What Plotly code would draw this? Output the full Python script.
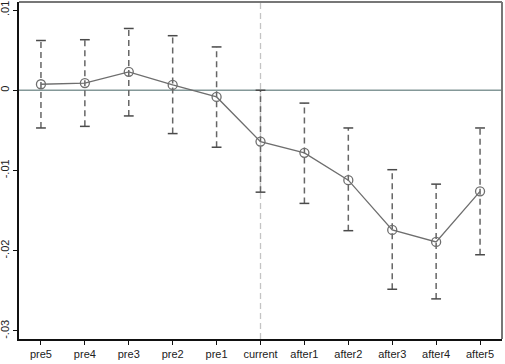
import plotly.graph_objects as go

periods = ["pre5", "pre4", "pre3", "pre2", "pre1", "current",
           "after1", "after2", "after3", "after4", "after5"]
coef = [0.00075, 0.0009, 0.0023, 0.00066, -0.00083, -0.0064,
        -0.0078, -0.0112, -0.0174, -0.0189, -0.0126]
ci_hi = [0.0062, 0.0063, 0.0077, 0.0068, 0.0054, 0.0000,
         -0.0016, -0.0047, -0.0099, -0.0117, -0.0047]
ci_lo = [-0.0047, -0.0045, -0.0032, -0.0054, -0.0071, -0.0127,
         -0.0141, -0.0175, -0.0248, -0.0260, -0.0205]
ytick_vals = [0.01, 0, -0.01, -0.02, -0.03]
ytick_text = [".01", "0", "-.01", "-.02", "-.03"]

xs = list(range(len(periods)))
fig = go.Figure()

# error bars (dashed)
ex, ey = [], []
for i, lo, hi in zip(xs, ci_lo, ci_hi):
    ex += [i, i, None]
    ey += [lo, hi, None]
fig.add_trace(go.Scatter(x=ex, y=ey, mode="lines",
                         line=dict(color="#666666", width=1.5, dash="6px,4px"),
                         hoverinfo="skip", showlegend=False))
# caps
fig.add_trace(go.Scatter(x=xs + xs, y=ci_lo + ci_hi, mode="markers",
                         marker=dict(symbol="line-ew", size=7,
                                     line=dict(color="#4a4a4a", width=1.5)),
                         showlegend=False))
# connecting line with hollow circles
fig.add_trace(go.Scatter(x=xs, y=coef, mode="lines+markers",
                         line=dict(color="#6e6e6e", width=1.3),
                         marker=dict(symbol="circle-open", size=9,
                                     line=dict(color="#555555", width=1.3)),
                         showlegend=False))

# zero line
fig.add_shape(type="line", xref="paper", x0=0, x1=1, yref="y", y0=0, y1=0,
              line=dict(color="#849898", width=1.3), layer="below")
# vertical dashed line at current
fig.add_shape(type="line", xref="x", x0=5, x1=5, yref="paper", y0=0, y1=1,
              line=dict(color="#c4c4c4", width=1.3, dash="6px,4px"), layer="below")
# top and right frame
fig.add_shape(type="line", xref="paper", yref="paper", x0=0, x1=1, y0=1, y1=1,
              line=dict(color="#777777", width=2))
fig.add_shape(type="line", xref="paper", yref="paper", x0=1, x1=1, y0=0, y1=1,
              line=dict(color="#777777", width=2))

fig.update_layout(
    width=505, height=364,
    margin=dict(l=19, r=3, t=2, b=25, autoexpand=False),
    paper_bgcolor="white", plot_bgcolor="white",
    font=dict(family="Liberation Sans, Arial, sans-serif", size=11, color="#222222"),
    xaxis=dict(range=[-0.5, 10.5], tickvals=xs, ticktext=periods,
               showgrid=False, zeroline=False, showline=True, automargin=False,
               linecolor="#111111", linewidth=1.5,
               ticks="outside", ticklen=4, tickcolor="#111111"),
    yaxis=dict(range=[-0.031, 0.011], tickvals=ytick_vals, ticktext=ytick_text,
               tickangle=-90, showgrid=False, zeroline=False, showline=True,
               automargin=False,
               linecolor="#111111", linewidth=1.5,
               ticks="outside", ticklen=4, tickcolor="#111111"),
)

fig.write_html("out.html", config={"displayModeBar": False},
               post_script="document.body.style.margin='0';")
